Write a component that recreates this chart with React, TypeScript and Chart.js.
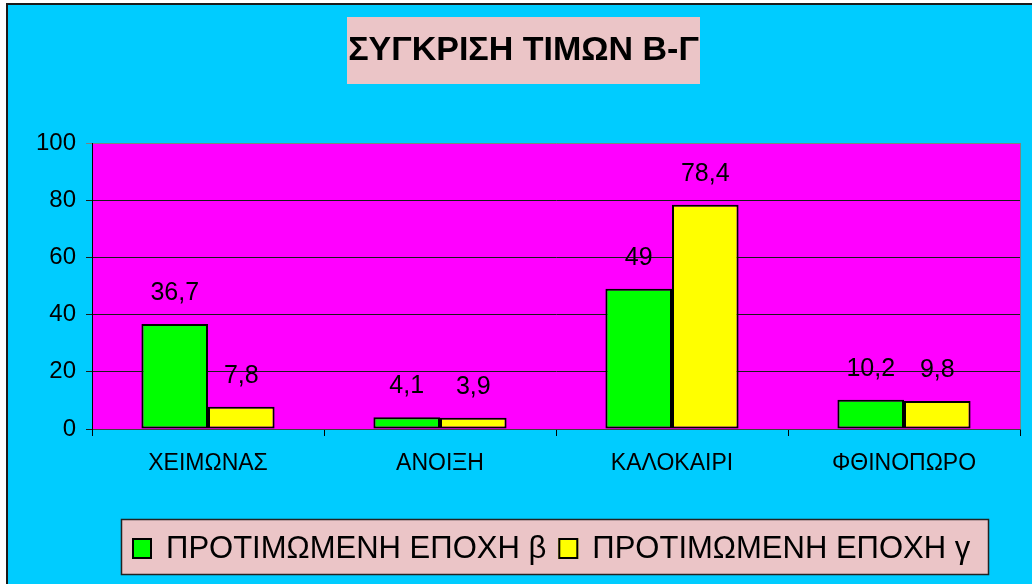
import React, { useEffect, useRef } from "react";
import { Chart, registerables } from "chart.js";

Chart.register(...registerables);

const categories = ["ΧΕΙΜΩΝΑΣ", "ΑΝΟΙΞΗ", "ΚΑΛΟΚΑΙΡΙ", "ΦΘΙΝΟΠΩΡΟ"];
const seriesBeta = [36.7, 4.1, 49, 10.2];
const seriesGamma = [7.8, 3.9, 78.4, 9.8];
const seriesNames = ["ΠΡΟΤΙΜΩΜΕΝΗ ΕΠΟΧΗ β", "ΠΡΟΤΙΜΩΜΕΝΗ ΕΠΟΧΗ γ"];
const seriesColors = ["#00FF00", "#FFFF00"];
const titleText = "ΣΥΓΚΡΙΣΗ ΤΙΜΩΝ Β-Γ";
const yMin = 0;
const yMax = 100;
const yStep = 20;

const FONT = '"Liberation Sans", Arial, Helvetica, sans-serif';
const CYAN = "#00CCFF";
const PINK = "#EBC5C7";
const MAGENTA = "#FF00FF";

const fmt = (v: number) => String(v).replace(".", ",");

const backgroundPlugin = {
  id: "bgPlugin",
  beforeDraw(chart: any) {
    const { ctx, width, height, chartArea } = chart;
    ctx.save();
    ctx.fillStyle = "#FFFFFF";
    ctx.fillRect(0, 0, width, height);
    ctx.fillStyle = CYAN;
    ctx.fillRect(7, 4, width - 7, height - 4);
    ctx.fillStyle = "#1a1a1a";
    ctx.fillRect(6, 3, width - 6, 2);
    ctx.fillRect(6, 3, 2, height - 3);
    ctx.fillStyle = MAGENTA;
    ctx.fillRect(
      chartArea.left,
      chartArea.top,
      chartArea.right - chartArea.left,
      chartArea.bottom - chartArea.top
    );
    ctx.restore();
  },
};

const dataLabelPlugin = {
  id: "dataLabels",
  afterDatasetsDraw(chart: any) {
    const { ctx } = chart;
    ctx.save();
    ctx.font = `25px ${FONT}`;
    ctx.fillStyle = "#000";
    ctx.textAlign = "center";
    ctx.textBaseline = "alphabetic";
    chart.data.datasets.forEach((ds: any, di: number) => {
      const meta = chart.getDatasetMeta(di);
      meta.data.forEach((el: any, i: number) => {
        ctx.fillText(fmt(ds.data[i]), el.x, el.y - 24);
      });
    });
    ctx.restore();
  },
};

const decorPlugin = {
  id: "decor",
  afterDraw(chart: any) {
    const { ctx, chartArea } = chart;
    ctx.save();
    // right border of plot area
    ctx.strokeStyle = "#808080";
    ctx.lineWidth = 1;
    ctx.beginPath();
    ctx.moveTo(Math.round(chartArea.right) + 0.5, chartArea.top);
    ctx.lineTo(Math.round(chartArea.right) + 0.5, chartArea.bottom);
    ctx.stroke();

    // title box
    ctx.fillStyle = PINK;
    ctx.fillRect(347, 17, 353, 67);
    ctx.fillStyle = "#000";
    ctx.font = `bold 34px ${FONT}`;
    ctx.textAlign = "center";
    ctx.textBaseline = "middle";
    ctx.fillText(titleText, 523.5, 51);

    // legend box
    ctx.fillStyle = PINK;
    ctx.fillRect(121, 519, 868, 56);
    ctx.strokeStyle = "#222";
    ctx.lineWidth = 1.5;
    ctx.strokeRect(121.5, 519.5, 867, 55);

    ctx.font = `31px ${FONT}`;
    ctx.textAlign = "left";
    ctx.textBaseline = "middle";
    let x = 132;
    chart.data.datasets.forEach((ds: any) => {
      ctx.fillStyle = ds.backgroundColor;
      ctx.fillRect(x, 538, 20, 21);
      ctx.strokeStyle = "#000";
      ctx.lineWidth = 2;
      ctx.strokeRect(x + 1, 539, 18, 19);
      ctx.fillStyle = "#000";
      ctx.fillText(ds.label, x + 34, 549);
      x += 34 + ctx.measureText(ds.label).width + 12;
    });
    ctx.restore();
  },
};

export default function App() {
  const canvasRef = useRef<HTMLCanvasElement | null>(null);

  useEffect(() => {
    if (!canvasRef.current) return;
    const chart = new Chart(canvasRef.current, {
      type: "bar",
      data: {
        labels: categories,
        datasets: [
          {
            label: seriesNames[0],
            data: seriesBeta,
            backgroundColor: seriesColors[0],
            borderColor: "#000",
            borderWidth: 2,
            borderSkipped: false,
            barPercentage: 1,
            categoryPercentage: 0.574,
          },
          {
            label: seriesNames[1],
            data: seriesGamma,
            backgroundColor: seriesColors[1],
            borderColor: "#000",
            borderWidth: 2,
            borderSkipped: false,
            barPercentage: 1,
            categoryPercentage: 0.574,
          },
        ],
      },
      options: {
        responsive: false,
        animation: false,
        devicePixelRatio: 1,
        layout: { padding: { top: 143, right: 12, bottom: 0, left: 0 } },
        plugins: {
          legend: { display: false },
          title: { display: false },
          tooltip: { enabled: false },
        },
        scales: {
          x: {
            afterFit: (s: any) => {
              s.height = 155;
            },
            ticks: {
              color: "#000",
              font: { family: FONT, size: 23 },
              padding: 14,
            },
            grid: {
              drawOnChartArea: false,
              drawTicks: true,
              tickLength: 7,
              color: "#000",
              offset: true,
            },
            border: { color: "#404040", width: 1 },
          },
          y: {
            min: yMin,
            max: yMax,
            afterFit: (s: any) => {
              s.width = 92;
            },
            ticks: {
              stepSize: yStep,
              color: "#000",
              font: { family: FONT, size: 24 },
              padding: 10,
            },
            grid: {
              color: (c: any) =>
                c.tick && c.tick.value === yMax ? "#808080" : "#1a1a1a",
              tickLength: 6,
              lineWidth: 1,
            },
            border: { color: "#000", width: 1 },
          },
        },
      },
      plugins: [backgroundPlugin, dataLabelPlugin, decorPlugin],
    });
    return () => chart.destroy();
  }, []);

  return (
    <div
      style={{
        position: "fixed",
        left: 0,
        top: 0,
        width: 1032,
        height: 584,
        overflow: "hidden",
      }}
    >
      <canvas ref={canvasRef} width={1032} height={584} style={{ display: "block" }} />
    </div>
  );
}
